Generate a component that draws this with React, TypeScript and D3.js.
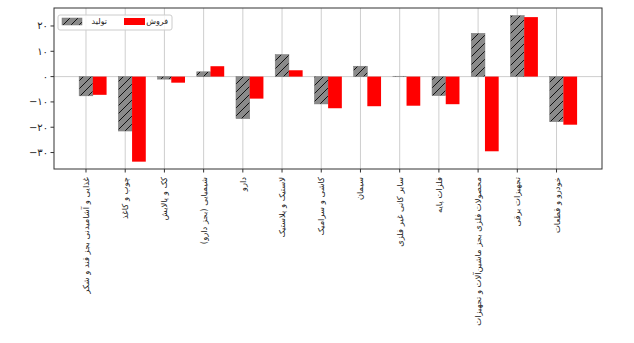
import React from "react";
import * as d3 from "d3";

const categories = [
  "غذایی و آشامیدنی بجز قند و شکر",
  "چوب و کاغذ",
  "کک و پالایش",
  "شیمیایی (بجز دارو)",
  "دارو",
  "لاستیک و پلاستیک",
  "کاشی و سرامیک",
  "سیمان",
  "سایر کانی غیر فلزی",
  "فلزات پایه",
  "محصولات فلزی بجز ماشین‌آلات و تجهیزات",
  "تجهیزات برقی",
  "خودرو و قطعات",
];
const production = [-7.6, -21.5, -1.0, 1.9, -16.6, 8.7, -10.8, 4.1, 0.15, -7.5, 17.1, 24.1, -17.8];
const sales = [-7.2, -33.6, -2.4, 4.1, -8.7, 2.5, -12.5, -11.7, -11.5, -10.9, -29.5, 23.5, -19.0];
const yTicks = [20, 10, 0, -10, -20, -30];
const seriesNames = ["تولید", "فروش"];

const W = 634, H = 343;
const L = 54, R = 602, T = 8, B = 169;

const faDigits = (n: number) => {
  const s = String(Math.abs(n)).replace(/[0-9]/g, (d) => "۰۱۲۳۴۵۶۷۸۹"[+d]);
  return n < 0 ? "\u2212" + s : s;
};

export default function App() {
  const x = d3.scaleLinear().domain([-0.816, 13.16]).range([L, R]);
  const y = d3.scaleLinear().domain([-36.5, 27.1]).range([B, T]);
  const bw = 0.35;
  const font = "DejaVu Sans";
  return (
    <svg width={W} height={H} style={{ position: "absolute", left: 0, top: 0, background: "#fff" }}>
      <defs>
        <pattern id="hatch" patternUnits="userSpaceOnUse" width={8} height={8}>
          <rect width={8} height={8} fill="#8a8a8a" />
          <path d="M-2,2 L2,-2 M0,8 L8,0 M6,10 L10,6" stroke="#111" strokeWidth={1} />
        </pattern>
      </defs>
      <rect x={0} y={0} width={W} height={H} fill="#fff" />
      {categories.map((c, i) => (
        <line key={"g" + i} x1={x(i)} x2={x(i)} y1={T} y2={B} stroke="#c8c8c8" strokeWidth={0.9} />
      ))}
      <line x1={L} x2={R} y1={y(0)} y2={y(0)} stroke="#c8c8c8" strokeWidth={0.9} />
      {production.map((v, i) => (
        <rect
          key={"p" + i}
          x={x(i - bw / 2)}
          width={x(i + bw / 2) - x(i - bw / 2)}
          y={Math.min(y(v), y(0))}
          height={Math.abs(y(v) - y(0))}
          fill="url(#hatch)"
          stroke="#777"
          strokeWidth={0.5}
        />
      ))}
      {sales.map((v, i) => (
        <rect
          key={"s" + i}
          x={x(i + bw / 2)}
          width={x(i + 1.5 * bw) - x(i + bw / 2)}
          y={Math.min(y(v), y(0))}
          height={Math.abs(y(v) - y(0))}
          fill="#ff0000"
        />
      ))}
      <rect x={L} y={T} width={R - L} height={B - T} fill="none" stroke="#333" strokeWidth={1} />
      {yTicks.map((t) => (
        <g key={"y" + t}>
          <line x1={L - 3.5} x2={L} y1={y(t)} y2={y(t)} stroke="#333" />
          <text x={L - 6} y={y(t)} textAnchor="end" dominantBaseline="central" fontSize={10} fontFamily={font} fill="#222">
            {faDigits(t)}
          </text>
        </g>
      ))}
      {categories.map((c, i) => (
        <g key={"x" + i}>
          <line x1={x(i)} x2={x(i)} y1={B} y2={B + 3.5} stroke="#333" />
          <text
            transform={`translate(${x(i)},${B + 8}) rotate(-90)`}
            textAnchor="end"
            dominantBaseline="central"
            fontSize={8.4}
            fontFamily={font}
            fill="#222"
          >
            {c}
          </text>
        </g>
      ))}
      <g>
        <rect x={58} y={15} width={114} height={15} fill="#fff" fillOpacity={0.85} stroke="#ccc" rx={2} />
        <rect x={62} y={18} width={20} height={7} fill="url(#hatch)" stroke="#777" strokeWidth={0.5} />
        <text x={107} y={21.5} textAnchor="end" dominantBaseline="central" fontSize={8} fontFamily={font} fill="#222">
          {seriesNames[0]}
        </text>
        <rect x={124} y={18} width={21} height={7} fill="#ff0000" />
        <text x={168} y={21.5} textAnchor="end" dominantBaseline="central" fontSize={8} fontFamily={font} fill="#222">
          {seriesNames[1]}
        </text>
      </g>
    </svg>
  );
}
